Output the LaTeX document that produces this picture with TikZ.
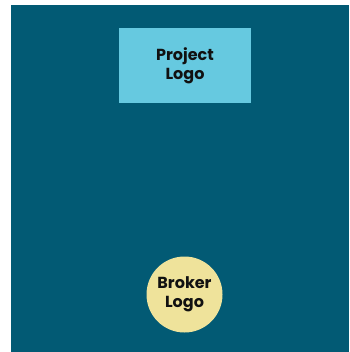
\documentclass[tikz,border=0pt]{standalone}
\usepackage{fontspec}
\setmainfont{Poppins}
\usetikzlibrary{positioning}
\definecolor{backdrop}{HTML}{025A74}
\definecolor{projectfill}{HTML}{66C9E0}
\definecolor{brokerfill}{HTML}{EFE39B}
\definecolor{ink}{HTML}{111111}
\tikzset{
  logotext/.style={
    text=ink,
    align=center,
    font=\fontsize{16}{19}\selectfont\bfseries
  },
  projectbox/.style={
    logotext,
    fill=projectfill,
    minimum width=132pt,
    minimum height=75pt,
    inner sep=0pt
  },
  brokerdisc/.style={
    logotext,
    circle,
    fill=brokerfill,
    minimum size=76pt,
    inner sep=0pt
  }
}
\begin{document}
\begin{tikzpicture}[x=1pt, y=-1pt]
  \useasboundingbox (0,0) rectangle (349,352);
  % Background panel.
  \fill[backdrop] (11,5) rectangle (349,352);
  % Logos.
  \node[projectbox] (project) at (185,65.5) {Project\\Logo};
  \node[brokerdisc] (broker) at (184.5,294.5) {Broker\\Logo};
\end{tikzpicture}
\end{document}
